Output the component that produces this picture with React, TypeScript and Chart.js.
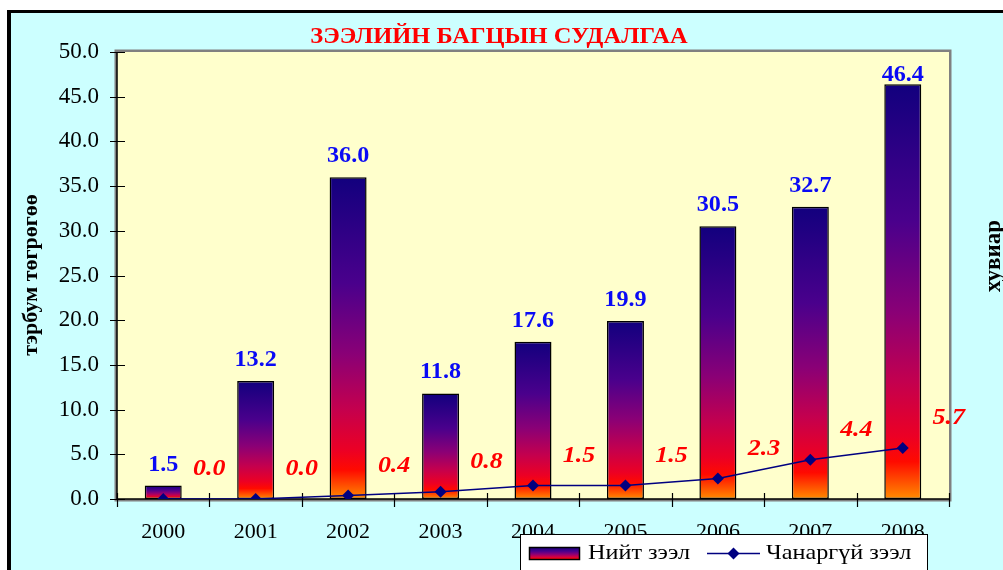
import React, { useEffect, useRef } from "react";
import { Chart, registerables } from "chart.js";

Chart.register(...registerables);

const categories = ["2000", "2001", "2002", "2003", "2004", "2005", "2006", "2007", "2008"];
const totalLoans = [1.5, 13.2, 36.0, 11.8, 17.6, 19.9, 30.5, 32.7, 46.4];
const badLoans = [0.0, 0.0, 0.4, 0.8, 1.5, 1.5, 2.3, 4.4, 5.7];
const yMin = 0;
const yMax = 50;
const yStep = 5;

const chartTitle = "ЗЭЭЛИЙН БАГЦЫН СУДАЛГАА";
const leftAxisTitle = "тэрбум төгрөгөө";
const rightAxisTitle = "хувиар";
const seriesNames = ["Нийт зээл", "Чанаргүй зээл"];

const SERIF = "'Liberation Serif', 'Times New Roman', serif";
const barStops: [number, string][] = [
  [0, "#12007E"],
  [0.33, "#4A008C"],
  [0.55, "#8A0076"],
  [0.72, "#C4004E"],
  [0.85, "#EC0024"],
  [0.91, "#FF0A00"],
  [1, "#FF8C00"],
];

function makeGradient(ctx: CanvasRenderingContext2D, y0: number, y1: number) {
  const g = ctx.createLinearGradient(0, y0, 0, y1);
  barStops.forEach(([o, c]) => g.addColorStop(o, c));
  return g;
}

function drawText(
  ctx: CanvasRenderingContext2D,
  text: string,
  x: number,
  y: number,
  font: string,
  color: string,
  align: CanvasTextAlign = "center",
  sx = 1,
  rot = 0
) {
  ctx.save();
  ctx.translate(x, y);
  if (rot) ctx.rotate(rot);
  ctx.scale(sx, 1);
  ctx.font = font;
  ctx.fillStyle = color;
  ctx.textAlign = align;
  ctx.textBaseline = "middle";
  ctx.fillText(text, 0, 0);
  ctx.restore();
}

const decorPlugin = {
  id: "decor",
  beforeDraw(chart: any) {
    const { ctx, chartArea: a, width, height } = chart;
    ctx.save();
    ctx.fillStyle = "#FFFFFF";
    ctx.fillRect(0, 0, width, height);
    ctx.fillStyle = "#000000";
    ctx.fillRect(7, 10, width + 20, height + 20);
    ctx.fillStyle = "#CCFFFF";
    ctx.fillRect(11, 13, width + 20, height + 20);
    ctx.strokeStyle = "#808080";
    ctx.lineWidth = 5;
    ctx.strokeRect(a.left, a.top, a.right - a.left, a.bottom - a.top);
    ctx.fillStyle = "#FFFFCC";
    ctx.fillRect(a.left, a.top, a.right - a.left, a.bottom - a.top);
    ctx.restore();
  },
  beforeDatasetsDraw(chart: any) {
    const { ctx, chartArea: a, scales } = chart;
    const xs = scales.x;
    const ys = scales.y;
    ctx.save();
    ctx.strokeStyle = "#000000";
    ctx.lineWidth = 1.5;
    ctx.beginPath();
    ctx.moveTo(a.left, a.top);
    ctx.lineTo(a.left, a.bottom);
    ctx.lineTo(a.right, a.bottom);
    ctx.stroke();
    ctx.lineWidth = 1.2;
    ctx.beginPath();
    for (let v = yMin; v <= yMax; v += yStep) {
      const py = Math.round(ys.getPixelForValue(v)) + 0.5;
      ctx.moveTo(a.left - 7, py);
      ctx.lineTo(a.left + 8, py);
    }
    for (let i = 0; i <= categories.length; i++) {
      const px = Math.round(xs.getPixelForValue(i - 0.5)) + 0.5;
      ctx.moveTo(px, a.bottom - 6);
      ctx.lineTo(px, a.bottom + 8);
    }
    ctx.stroke();
    ctx.restore();
  },
  afterDatasetsDraw(chart: any) {
    const { ctx, chartArea: a } = chart;
    const barMeta = chart.getDatasetMeta(0);
    barMeta.data.forEach((el: any, i: number) => {
      const cy = Math.max(el.y - 21, a.top + 23);
      drawText(ctx, totalLoans[i].toFixed(1), el.x, cy, `bold 23px ${SERIF}`, "#0A0AF5", "center", 1.05);
    });
    const lineMeta = chart.getDatasetMeta(1);
    lineMeta.data.forEach((el: any, i: number) => {
      drawText(ctx, badLoans[i].toFixed(1), el.x + 46, el.y - 30, `italic bold 24px ${SERIF}`, "#FF0000", "center", 1.08);
    });
    drawText(ctx, chartTitle, 499, 37, `bold 24px ${SERIF}`, "#FF0000", "center", 1.02);
    drawText(ctx, leftAxisTitle, 31, 275, `bold 22px ${SERIF}`, "#000000", "center", 1, -Math.PI / 2);
    drawText(ctx, rightAxisTitle, 994, 256, `bold 23px ${SERIF}`, "#000000", "center", 1, -Math.PI / 2);
    ctx.save();
    ctx.fillStyle = "#FFFFFF";
    ctx.fillRect(520.5, 534.5, 407, 60);
    ctx.strokeStyle = "#000000";
    ctx.lineWidth = 1;
    ctx.strokeRect(520.5, 534.5, 407, 60);
    ctx.fillStyle = makeGradient(ctx, 547, 560);
    ctx.fillRect(529, 547, 51, 13);
    ctx.lineWidth = 1.5;
    ctx.strokeRect(529.5, 547.5, 50, 12);
    ctx.strokeStyle = "#000080";
    ctx.lineWidth = 1.5;
    ctx.beginPath();
    ctx.moveTo(707, 553.5);
    ctx.lineTo(760, 553.5);
    ctx.stroke();
    ctx.fillStyle = "#000080";
    ctx.beginPath();
    ctx.moveTo(733.5, 547.5);
    ctx.lineTo(739.5, 553.5);
    ctx.lineTo(733.5, 559.5);
    ctx.lineTo(727.5, 553.5);
    ctx.closePath();
    ctx.fill();
    ctx.restore();
    drawText(ctx, seriesNames[0], 588, 553, `22px ${SERIF}`, "#000000", "left", 1.1);
    drawText(ctx, seriesNames[1], 766, 553, `22px ${SERIF}`, "#000000", "left", 1.1);
  },
};

export default function App() {
  const ref = useRef<HTMLCanvasElement | null>(null);
  useEffect(() => {
    if (!ref.current) return;
    const chart = new Chart(ref.current, {
      type: "bar",
      data: {
        labels: categories,
        datasets: [
          {
            type: "bar",
            label: seriesNames[0],
            data: totalLoans,
            order: 1,
            backgroundColor: (c: any) => {
              const ch = c.chart;
              if (!ch.chartArea || c.type !== "data") return "#800080";
              const ys = ch.scales.y;
              return makeGradient(ch.ctx, ys.getPixelForValue(c.raw), ys.getPixelForValue(0));
            },
            borderColor: "#000000",
            borderWidth: 1.5,
            borderSkipped: false,
            barPercentage: 0.4,
            categoryPercentage: 1,
          },
          {
            type: "line",
            label: seriesNames[1],
            data: badLoans,
            order: 0,
            borderColor: "#000080",
            borderWidth: 1.5,
            pointStyle: "rectRot",
            pointRadius: 6,
            pointBackgroundColor: "#000080",
            pointBorderColor: "#000080",
            pointBorderWidth: 0,
            tension: 0,
            fill: false,
          },
        ],
      } as any,
      options: {
        responsive: false,
        animation: false,
        devicePixelRatio: 1,
        layout: { padding: { top: 52, right: 54, bottom: 0, left: 0 } },
        plugins: { legend: { display: false }, tooltip: { enabled: false }, title: { display: false } },
        scales: {
          x: {
            type: "category",
            offset: true,
            grid: { display: false, drawTicks: false },
            border: { display: false },
            ticks: {
              color: "#000000",
              font: { family: SERIF, size: 22 },
              padding: 20,
              maxRotation: 0,
              autoSkip: false,
            },
            afterFit: (s: any) => {
              s.height = 71;
            },
          },
          y: {
            min: yMin,
            max: yMax,
            grid: { display: false, drawTicks: false },
            border: { display: false },
            ticks: {
              stepSize: yStep,
              color: "#000000",
              font: { family: SERIF, size: 23 },
              padding: 18,
              callback: (v: any) => Number(v).toFixed(1),
            },
            afterFit: (s: any) => {
              s.width = 117;
            },
          },
        },
      } as any,
      plugins: [decorPlugin],
    });
    return () => chart.destroy();
  }, []);
  return (
    <div style={{ position: "fixed", left: 0, top: 0, width: 1003, height: 570, overflow: "hidden" }}>
      <canvas ref={ref} width={1003} height={570} style={{ display: "block", width: 1003, height: 570 }} />
    </div>
  );
}
